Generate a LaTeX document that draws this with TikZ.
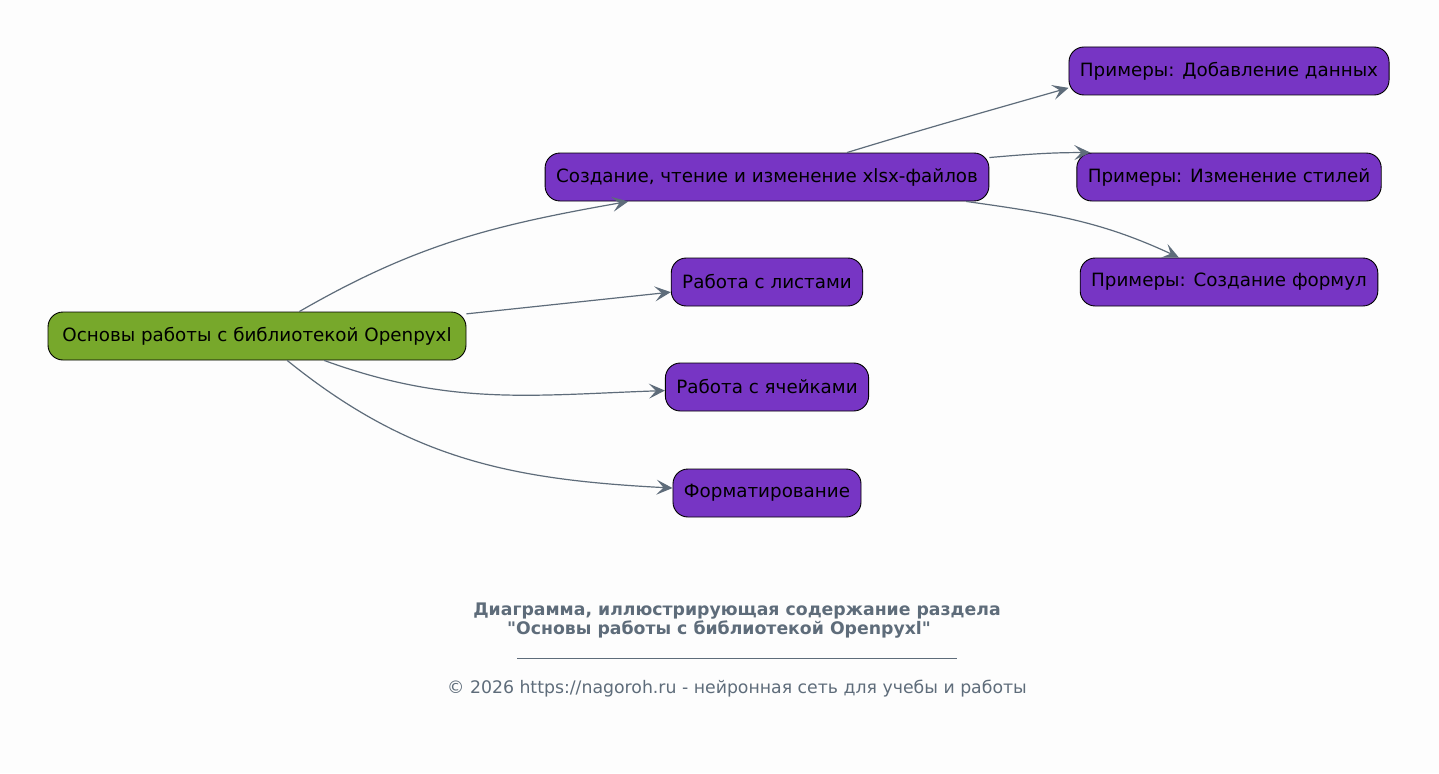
\documentclass[tikz,border=0pt]{standalone}
\usepackage{fontspec}
\setmainfont{DejaVu Sans}
\usetikzlibrary{arrows.meta}
\definecolor{rootgreen}{HTML}{77A82B}
\definecolor{topicviolet}{HTML}{7735C4}
\definecolor{edgegray}{HTML}{5E6C7A}
\definecolor{pagewhite}{HTML}{FDFDFD}

\begin{document}
\begin{tikzpicture}[x=1pt, y=1pt,
  topic/.style={draw=black, line width=0.9pt, fill=topicviolet, rounded corners=15pt,
    minimum height=48pt, inner xsep=11pt, font=\fontsize{18.3}{22}\selectfont},
  root/.style={topic, fill=rootgreen, minimum width=418pt},
  link/.style={color=edgegray, line width=1.2pt,
    -{Stealth[length=16pt, width=15pt, inset=7pt]}},
  caption/.style={text=edgegray, font=\fontsize{17.3}{20}\selectfont}]
  \fill[pagewhite] (0,0) rectangle (1439,-773);
  \useasboundingbox (0,0) rectangle (1439,-773);

  % nodes
  \node[root]  (m)   at (257,-336)  {Основы работы с библиотекой Openpyxl};
  \node[topic] (xl)  at (767,-177)  {Создание, чтение и изменение xlsx-файлов};
  \node[topic] (sh)  at (767,-282)  {Работа с листами};
  \node[topic] (ce)  at (767,-387)  {Работа с ячейками};
  \node[topic] (fm)  at (767,-493)  {Форматирование};
  \node[topic] (ex1) at (1229,-71)  {Примеры: Добавление данных};
  \node[topic] (ex2) at (1229,-177) {Примеры: Изменение стилей};
  \node[topic] (ex3) at (1229,-282) {Примеры: Создание формул};

  % links
  \path[link]
  (m.30) edge[out=30, in=190] (xl.190)
  (m) edge (sh)
  (m.-20) edge[out=-20, in=182] (ce.182)
  (m.-39) edge[out=-39, in=177] (fm.177)
  (xl.17) edge[out=17, in=196] (ex1.186)
  (xl.5) edge[out=5, in=180] (ex2.170)
  (xl.-7) edge[out=-8, in=155] (ex3.154)
  ;

  % caption
  \node[caption, font=\fontsize{17.3}{20}\selectfont\bfseries] (t1) at (737,-611)
    {Диаграмма, иллюстрирующая содержание раздела};
  \node[caption, font=\fontsize{17.3}{20}\selectfont\bfseries] (t2) at (719,-630)
    {\textquotedbl Основы работы с библиотекой Openpyxl\textquotedbl};
  \draw[edgegray, line width=0.8pt] (517,-658) -- (957,-658);
  \node[caption] (cr) at (737,-689)
    {© 2026 https://nagoroh.ru - нейронная сеть для учебы и работы};
\end{tikzpicture}
\end{document}
